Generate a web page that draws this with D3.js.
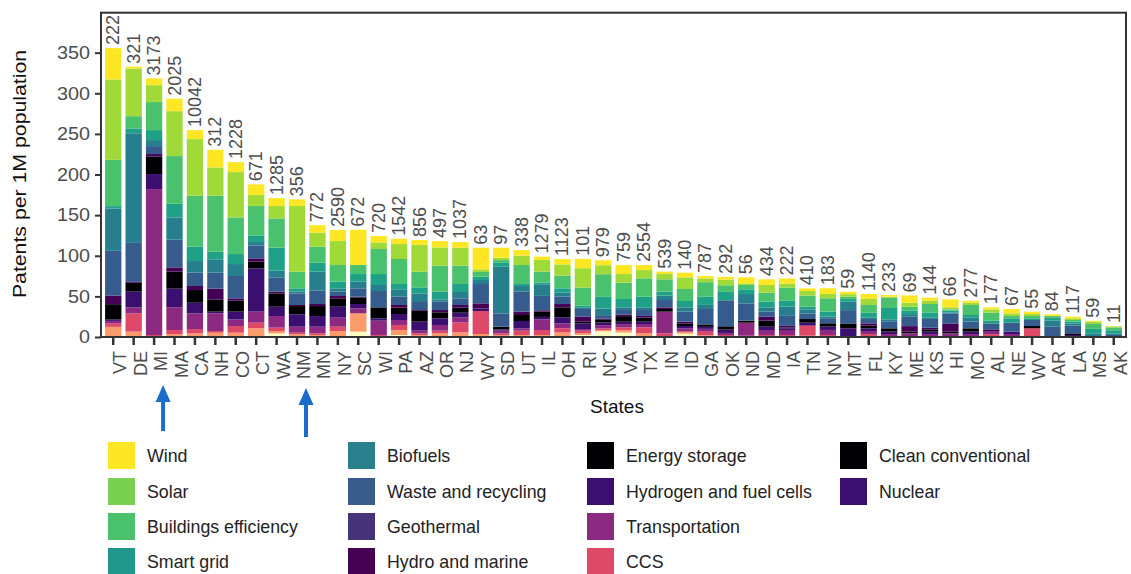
<!DOCTYPE html>
<html>
<head>
<meta charset="utf-8">
<script src="https://cdn.jsdelivr.net/npm/d3@7"></script>
<style>
  html, body { margin: 0; padding: 0; background: #fff; }
  svg { display: block; font-family: "Liberation Sans", Arial, Helvetica, sans-serif; }
</style>
</head>
<body>
<svg id="chart" width="1131" height="574"></svg>
<script>
// States ordered by total clean-tech patents per 1M population
const states = ["VT","DE","MI","MA","CA","NH","CO","CT","WA","NM","MN","NY","SC","WI","PA","AZ","OR","NJ","WY","SD","UT","IL","OH","RI","NC","VA","TX","IN","ID","GA","OK","ND","MD","IA","TN","NV","MT","FL","KY","ME","KS","HI","MO","AL","NE","WV","AR","LA","MS","AK"];

// Patent counts printed above each bar
const patentCounts = [222,321,3173,2025,10042,312,1228,671,1285,356,772,2590,672,720,1542,856,497,1037,63,97,338,1279,1123,101,979,759,2554,539,140,787,292,56,434,222,410,183,59,1140,233,69,144,66,277,177,67,55,84,117,59,11];

// Technology categories, top of stack first
const categories = ["Wind","Solar","Buildings efficiency","Smart grid","Biofuels","Waste and recycling","Geothermal","Hydro and marine","Energy storage","Hydrogen and fuel cells","Transportation","CCS","Clean conventional","Nuclear"];

// Patents per 1M population, one array per technology (same order as states)
const wind       = [38.5,2.4,8.3,15.3,11.1,21.7,12.3,13.2,9.8,8.2,9.4,13.6,43.5,7.8,6.6,6.2,7.8,7,26.6,12.3,6.9,4.1,6.6,11.5,6.1,11.1,6.2,2.9,5.8,3,3.3,7.4,7,6.2,3.3,7,2.9,6.1,2,9.1,3.7,9.8,2.5,2.5,5.4,2.9,2.1,2,1,0.5];
const solar      = [99,58.6,20.8,55.3,69.7,34.9,55.8,13.5,15.2,80.8,17.2,29.5,0,8.2,18.4,32.8,22.5,22.1,3.3,2.9,11.5,14.4,13.9,24,11.1,10.6,10.2,6.5,14.3,4.5,7,2,9.4,4.9,5.7,5.3,3.3,7.4,1.5,4.9,4.1,2.5,2.8,4.1,3.3,2.5,0,2.1,3,1.2];
const buildings  = [57,15,34.5,58.7,62.7,68.9,45.1,36.1,36,20.5,19.7,20.5,11.1,30.8,30.8,19.3,32,22.6,5.8,2.8,23.4,13.5,15.6,22.2,27.9,20.1,22.6,15.2,14.8,18,8.2,5.3,11.1,16.4,13.6,16.4,2.8,9.5,12.5,4.9,10.7,1.5,12.3,9.8,2.8,2.8,1.6,2,6,3.5];
const smartGrid  = [3,6,12.3,16.8,17.7,9.4,12.3,8.2,28.4,4,11,8.2,9.4,13.5,6.5,7.4,9.5,9.8,4,5.4,2.4,2.1,5.3,2,14.3,10.3,13.1,4.9,7.8,10,10.3,5.8,7,7,3.3,6.2,3.3,5.7,14,4.1,5.7,2.5,2.9,3.3,5.4,2.1,4.1,2.1,6,4.3];
const biofuels   = [52,135,7.4,27.4,14.3,16.4,14.7,4.5,8.2,2.2,23.4,4.1,8.2,7.4,9.1,10.6,2.8,7.8,5,57.4,7,14.3,5,2,8.2,3.3,3.3,5.4,5.3,5,0,11.5,5.3,11.5,4.9,2,10.3,2.1,3,3.3,2,1,5.3,0,0,0,7.4,2.9,4,1.5];
const waste      = [55,48,9.8,34.1,16.4,19.7,27.5,15.6,17.6,14.3,16.4,5.3,10.3,20.1,10.2,9.9,10.3,8.2,23.8,16.4,24.6,17.7,9,9.5,4.1,5.5,7.3,9,12.3,19,32,21.3,6.2,12.3,7,6.2,16.4,5.3,8,11.5,10.8,12.3,8.2,7.4,11,7.4,12.7,9.4,0,2.5];
const geothermal = [0,0,0,0,0,0,0,0,0,0,0,0,0,0,0,0,0,0,0,0,0,0,0,0,0,0,0,0,0,0,0,0,0,0,0,0,0,0,0,0,0,0,0,0,0,0,0,0,0,0];
const hydro      = [10.7,1,3.2,5.3,5,13.2,2.9,4.1,2.1,1.3,2.5,2.9,0.8,0,3.3,1,2.8,3.3,6.1,0,4.1,1.6,4.1,6.2,1,2,2,2,2.1,0,0,0,4.9,2,0,0,0,2.9,0,6.9,2,10.2,0,2.9,0,0,0,0,0,0];
const storage    = [19,11,21.4,20.9,15.6,15.1,13.5,8.2,16.4,10.2,12.3,10.3,8.2,13.5,7.8,13.3,7.4,6.2,0,3.3,7.4,6.6,12.3,2,4,6.9,5,3.3,3.3,3,4.1,2.5,7.4,1,4.5,4.1,6,3.2,4,2,2.8,2,4.1,0,0,2.8,0,2,0,0];
const hydrogen   = [1.6,19.3,18.5,23,13.1,2.1,9.5,53.3,11.5,15.2,13.1,13.5,5.3,2.9,7.4,11.1,8.2,5.7,3.3,1.6,9,3,7.4,7,3.2,2.9,2.9,0,2.8,2.5,4.1,0,4.1,2.1,3,4.1,10,3.3,3,0,2.9,0,2.9,0,2.9,0,0,2.5,0,0];
const transport  = [3.3,7.4,179.6,27.9,19.3,21.7,8.2,13.6,14.3,7.4,8.2,11.1,6.2,17.6,6.1,3.3,7,6.2,0,3.3,2.9,13.1,6.1,2,4.1,4.1,4.1,26.7,4.1,3.5,2.5,16,6.1,6.1,1,6.2,0.7,3.7,3.7,4.5,3.7,4.5,3.7,2.9,3.7,0,0,0,0,0];
const ccs        = [4,22.5,2,5.3,5.3,2.1,8.2,6.9,4.1,2,2,5.3,0,1.2,6.2,2,3.3,12.3,28.3,2,5.3,6.1,5,3.3,2,3.3,7.4,4.5,0,4.5,2.5,1.6,2.5,2.5,12,2.5,0,3.7,0,0,0,0,0,3.6,0,10.7,0,0,0,0];
const cleanConv  = [12,6.6,0.5,3.3,4.5,5.3,5.3,10.7,3,3.3,2.5,7.4,22.5,1.3,6.1,2.5,4.5,5.7,3.7,2.5,2.5,2.5,5.7,2,1.5,3,4.5,0,2.5,2,0,0,0,0,1.6,0,0,0,0,0,0,0,0,0,0,0,0,0,0,0];
const nuclear    = [0.5,0,0,0,0,0,0,0,4.4,0,0,0,6.6,0,2.5,0,0,0,0,0,0,0,0,2.5,7,5.5,0,0,4.1,0,0,0,0,0,0,0,0,0,0,0,0,0,0,0,0,0,0,0,0,0];

const yTicks = [0,50,100,150,200,250,300,350];

// Fill colours of the stacked segments and of the legend keys
const barColors = ["#FDE725","#A0DA39","#4AC16D","#1FA187","#277F8E","#365C8D","#46327E","#440154","#000004","#3B0F70","#8C2981","#DE4968","#FB9A6A","#FCFDBF"];
const keyColors = ["#FDE725","#7AD151","#4AC16D","#21968A","#2A7F8C","#375C8C","#453278","#440154","#000004","#3B0F70","#8C2981","#DE4968","#000004","#3B0F70"];

const series = [wind, solar, buildings, smartGrid, biofuels, waste, geothermal, hydro, storage, hydrogen, transport, ccs, cleanConv, nuclear];

// Rows for d3.stack
const rows = states.map((s, i) => {
  const r = { state: s, count: patentCounts[i] };
  categories.forEach((c, k) => { r[c] = series[k][i]; });
  return r;
});

const svg = d3.select("#chart");
const panel = { left: 101, right: 1126, top: 12.7, bottom: 337 };
const tickGrey = "#4d4d4d";

const x = d3.scaleBand().domain(states).range([panel.left, panel.right])
  .paddingInner(0.2).paddingOuter(0.2);
const y = d3.scaleLinear().domain([0, 399.2]).range([panel.bottom, panel.top]);

// Bottom category first so the stack grows from Nuclear up to Wind
const stack = d3.stack().keys(categories.slice().reverse());
const layers = stack(rows);
const colorOf = d3.scaleOrdinal().domain(categories).range(barColors);

svg.append("g").selectAll("g").data(layers).join("g")
  .attr("fill", d => colorOf(d.key))
  .selectAll("rect").data(d => d).join("rect")
  .attr("x", d => x(d.data.state))
  .attr("width", x.bandwidth())
  .attr("y", d => y(d[1]))
  .attr("height", d => Math.max(0, y(d[0]) - y(d[1])));

// Patent counts above each bar
const totals = rows.map(r => d3.sum(categories, c => r[c]));
svg.append("g").selectAll("text").data(rows).join("text")
  .attr("transform", (d, i) => `translate(${x(d.state) + x.bandwidth() / 2},${y(totals[i]) - 3}) rotate(-90)`)
  .attr("text-anchor", "start")
  .attr("dominant-baseline", "central")
  .attr("fill", tickGrey)
  .attr("font-size", 18)
  .text(d => d.count);

// Panel frame
svg.append("rect")
  .attr("x", panel.left).attr("y", panel.top)
  .attr("width", panel.right - panel.left).attr("height", panel.bottom - panel.top)
  .attr("fill", "none").attr("stroke", "#333").attr("stroke-width", 2);

// Y axis
const yAxis = svg.append("g").attr("transform", `translate(${panel.left},0)`)
  .call(d3.axisLeft(y).tickValues(yTicks).tickSize(6).tickPadding(5));
yAxis.select(".domain").remove();
yAxis.selectAll("line").attr("stroke", "#333").attr("stroke-width", 2);
yAxis.selectAll("text")
  .attr("x", null)
  .attr("transform", "translate(-11,0) scale(1.1,1)")
  .attr("fill", tickGrey).attr("font-size", 18)
  .attr("font-family", "Liberation Sans, Arial, sans-serif");

// X axis
const xAxis = svg.append("g").attr("transform", `translate(0,${panel.bottom})`)
  .call(d3.axisBottom(x).tickSize(8).tickSizeOuter(0));
xAxis.select(".domain").remove();
xAxis.selectAll("line").attr("stroke", "#333").attr("stroke-width", 2.5);
xAxis.selectAll("text")
  .attr("transform", "translate(7,14) rotate(-90)")
  .attr("x", 0).attr("y", 0).attr("dy", null)
  .attr("text-anchor", "end")
  .attr("dominant-baseline", "central")
  .attr("fill", tickGrey).attr("font-size", 18)
  .attr("font-family", "Liberation Sans, Arial, sans-serif");

// Axis titles
svg.append("text")
  .attr("transform", `translate(19,174) rotate(-90) scale(1.12,1)`)
  .attr("text-anchor", "middle").attr("dominant-baseline", "central")
  .attr("font-size", 19).attr("fill", "#111")
  .text("Patents per 1M population");
svg.append("text")
  .attr("x", 617).attr("y", 413)
  .attr("text-anchor", "middle")
  .attr("font-size", 19).attr("fill", "#111")
  .text("States");

// Arrows under MI and NM
const arrowStates = ["MI", "NM"];
const arrows = svg.append("g").attr("fill", "#1a6dcc");
arrowStates.forEach((s, i) => {
  const cx = x(s) + x.bandwidth() / 2 + 9;
  const tip = i === 0 ? 385 : 388;
  const base = i === 0 ? 431 : 437;
  arrows.append("rect").attr("x", cx - 2).attr("y", tip + 14).attr("width", 4).attr("height", base - tip - 14);
  arrows.append("path").attr("d", `M${cx},${tip} L${cx + 7.5},${tip + 17} L${cx - 7.5},${tip + 17} Z`);
});

// Legend: four columns of four keys
const legendCols = [108, 348, 587, 840];
const legendRows = [442, 478, 513, 548];
const legend = svg.append("g");
categories.forEach((c, k) => {
  const col = Math.floor(k / 4), row = k % 4;
  const g = legend.append("g").attr("transform", `translate(${legendCols[col]},${legendRows[row]})`);
  g.append("rect").attr("width", 27).attr("height", 27).attr("fill", keyColors[k]);
  g.append("text").attr("x", 39).attr("y", 13.5).attr("dominant-baseline", "central")
    .attr("font-size", 17.8).attr("fill", "#222").text(c);
});
</script>
</body>
</html>
